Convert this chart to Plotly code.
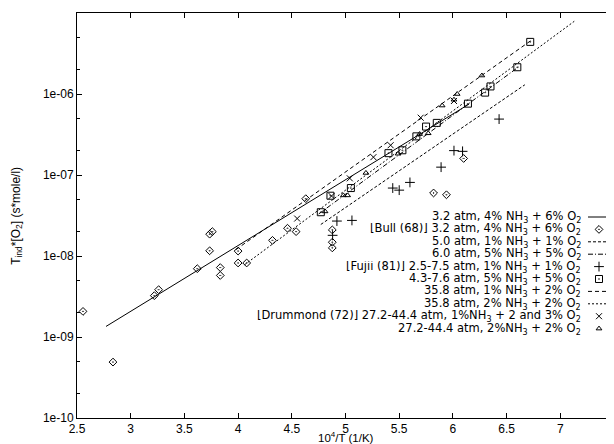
# induction time * [O2] vs inverse temperature, gnuplot-style log plot
import plotly.graph_objects as go

FONT = "Liberation Sans"
KEY_FONT = "DejaVu Sans"

# fitted correlations (endpoints)
fit_bull_x = [2.77, 6.15]
fit_bull_y = [1.35e-9, 7.5e-7]
fit_5atm_x = [4.77, 6.67]
fit_5atm_y = [2.45e-8, 1.3e-6]
fit_6atm_x = [4.75, 6.62]
fit_6atm_y = [3.3e-8, 2.2e-6]
fit_35_1_x = [3.98, 6.73]
fit_35_1_y = [1.2e-8, 4.6e-6]
fit_35_2_x = [4.06, 7.13]
fit_35_2_y = [7.8e-9, 7.9e-6]

# Bull (68) data
bull_x = [2.556, 2.835, 3.22, 3.26, 3.62, 3.735, 3.735, 3.76, 3.834, 3.834, 4.0, 4.0,
          4.08, 4.32, 4.46, 4.54, 4.63, 4.877, 4.877, 4.877, 5.82, 5.94, 6.10]
bull_y = [2.07e-9, 4.9e-10, 3.24e-9, 3.84e-9, 6.97e-9, 1.16e-8, 1.86e-8, 2.0e-8, 7.2e-9,
          5.75e-9, 1.15e-8, 8.2e-9, 8.2e-9, 1.56e-8, 2.2e-8, 2.0e-8, 5.1e-8, 2.1e-8,
          1.48e-8, 1.26e-8, 6.0e-8, 5.7e-8, 1.6e-7]

# Fujii (81) data
fujii1_x = [4.88, 4.92, 5.06, 5.44, 5.50, 5.60, 5.89, 6.01, 6.09, 6.43]
fujii1_y = [1.8e-8, 2.7e-8, 2.75e-8, 6.9e-8, 6.5e-8, 8.1e-8, 1.25e-7, 2.0e-7, 1.96e-7, 4.9e-7]
fujii5_x = [4.77, 4.86, 5.05, 5.40, 5.53, 5.66, 5.75, 5.85, 6.14, 6.30, 6.35, 6.60, 6.72]
fujii5_y = [3.47e-8, 5.55e-8, 6.9e-8, 1.86e-7, 2.02e-7, 3.0e-7, 3.96e-7, 4.4e-7, 7.6e-7,
            1.04e-6, 1.24e-6, 2.14e-6, 4.4e-6]

# Drummond (72) data
drum1_x = [4.55, 4.87, 5.04, 5.26, 5.42, 5.70, 6.01]
drum1_y = [2.9e-8, 5.5e-8, 9.1e-8, 1.66e-7, 2.33e-7, 5.1e-7, 8.2e-7]
drum2_x = [4.81, 4.98, 5.02, 5.19, 5.49, 5.69, 5.77, 5.90, 6.01, 6.04, 6.27]
drum2_y = [3.55e-8, 5.6e-8, 5.6e-8, 1.06e-7, 1.83e-7, 3.2e-7, 3.27e-7, 7.2e-7, 8.5e-7,
           1.0e-6, 1.69e-6]

x_ticks = [2.5, 3, 3.5, 4, 4.5, 5, 5.5, 6, 6.5, 7, 7.5]
x_tick_text = ["2.5", "3", "3.5", "4", "4.5", "5", "5.5", "6", "6.5", "7", "7.5"]
y_ticks = [1e-10, 1e-9, 1e-8, 1e-7, 1e-6, 1e-5]
y_tick_text = ["1e-10", "1e-09", "1e-08", "1e-07", "1e-06", "1e-05"]

legend_labels = [
    "3.2 atm, 4% NH<sub>3</sub> + 6% O<sub>2</sub>",
    "[Bull (68)] 3.2 atm, 4% NH<sub>3</sub> + 6% O<sub>2</sub>",
    "5.0 atm, 1% NH<sub>3</sub> + 1% O<sub>2</sub>",
    "6.0 atm, 5% NH<sub>3</sub> + 5% O<sub>2</sub>",
    "[Fujii (81)] 2.5-7.5 atm, 1% NH<sub>3</sub> + 1% O<sub>2</sub>",
    "4.3-7.6 atm, 5% NH<sub>3</sub> + 5% O<sub>2</sub>",
    "35.8 atm, 1% NH<sub>3</sub> + 2% O<sub>2</sub>",
    "35.8 atm, 2% NH<sub>3</sub> + 2% O<sub>2</sub>",
    "[Drummond (72)] 27.2-44.4 atm, 1%NH<sub>3</sub> + 2 and 3% O<sub>2</sub>",
    "27.2-44.4 atm, 2%NH<sub>3</sub> + 2% O<sub>2</sub>",
]

# plot area in pixels (gnuplot frame)
L, R, T, B = 69, 606, 5, 410
W, H = 614, 444

line_styles = {
    "solid": dict(color="black", width=1),
    "dash5": dict(color="black", width=1, dash="3px,2px"),
    "dashdot": dict(color="black", width=1, dash="5px,2px,1px,2px"),
    "longdash": dict(color="black", width=1, dash="4px,3px"),
    "dot": dict(color="black", width=1, dash="2px,2px"),
}
marker_styles = {
    "diamond": dict(symbol="diamond-open-dot", size=6, color="black", line=dict(width=1)),
    "plus": dict(symbol="cross-thin-open", size=7, color="black", line=dict(width=1)),
    "square": dict(symbol="square-open-dot", size=7, color="black", line=dict(width=1)),
    "x": dict(symbol="x-thin-open", size=6, color="black", line=dict(width=1)),
    "triangle": dict(symbol="triangle-up-open", size=5, color="black", line=dict(width=1)),
}

series = [
    ("line", fit_bull_x, fit_bull_y, "solid"),
    ("marker", bull_x, bull_y, "diamond"),
    ("line", fit_5atm_x, fit_5atm_y, "dash5"),
    ("line", fit_6atm_x, fit_6atm_y, "dashdot"),
    ("marker", fujii1_x, fujii1_y, "plus"),
    ("marker", fujii5_x, fujii5_y, "square"),
    ("line", fit_35_1_x, fit_35_1_y, "longdash"),
    ("line", fit_35_2_x, fit_35_2_y, "dot"),
    ("marker", drum1_x, drum1_y, "x"),
    ("marker", drum2_x, drum2_y, "triangle"),
]

fig = go.Figure()

for kind, xs, ys, style in series:
    if kind == "line":
        fig.add_trace(go.Scatter(x=xs, y=ys, mode="lines", line=line_styles[style],
                                 showlegend=False, hoverinfo="skip"))
    else:
        fig.add_trace(go.Scatter(x=xs, y=ys, mode="markers", marker=marker_styles[style],
                                 showlegend=False))

# gnuplot-like key: right-aligned text, sample to the right (pixel overlay axes)
row_y0, row_step = 209, 12.4
text_right = 574
for i, (label, (kind, _, _, style)) in enumerate(zip(legend_labels, series)):
    ry = row_y0 + row_step * i
    fig.add_annotation(x=text_right, y=ry, xref="x2", yref="y2", text=label,
                       showarrow=False, xanchor="right", yanchor="middle", height=12,
                       valign="middle", borderpad=0,
                       font=dict(family=KEY_FONT, size=11.5, color="black"))
    if kind == "line":
        fig.add_trace(go.Scatter(x=[580, 603], y=[ry, ry], mode="lines", xaxis="x2",
                                 yaxis="y2", line=line_styles[style],
                                 showlegend=False, hoverinfo="skip"))
    else:
        fig.add_trace(go.Scatter(x=[591], y=[ry], mode="markers", xaxis="x2", yaxis="y2",
                                 marker=marker_styles[style], showlegend=False,
                                 hoverinfo="skip"))

axis_common = dict(showline=True, linecolor="black", linewidth=1, mirror="ticks",
                   ticks="inside", ticklen=5, tickcolor="black", showgrid=False,
                   zeroline=False, tickfont=dict(family=FONT, size=12, color="black"))

fig.update_layout(
    width=W, height=H,
    margin=dict(l=L, r=W - R, t=T, b=H - B),
    paper_bgcolor="white", plot_bgcolor="white",
    xaxis=dict(range=[2.5, 7.5], tickvals=x_ticks, ticktext=x_tick_text, **axis_common),
    yaxis=dict(type="log", range=[-10, -5], tickvals=y_ticks, ticktext=y_tick_text,
               minor=dict(ticks="inside", ticklen=3, tickcolor="black",
                          tickvals=[2e-10, 5e-10, 2e-9, 5e-9, 2e-8, 5e-8, 2e-7, 5e-7,
                                    2e-6, 5e-6]),
               **axis_common),
    xaxis2=dict(range=[L, R], overlaying="x", visible=False),
    yaxis2=dict(range=[B, T], overlaying="y", visible=False),
    showlegend=False,
)

fig.add_annotation(x=0.5, y=(B - 429) / (B - T), xref="paper", yref="paper",
                   showarrow=False, xanchor="center", yanchor="middle", borderpad=0,
                   text="10<sup>4</sup>/T (1/K)",
                   font=dict(family=FONT, size=11.5, color="black"))
fig.add_annotation(x=-0.113, y=0.5, xref="paper", yref="paper", showarrow=False,
                   xanchor="center", yanchor="middle", textangle=-90,
                   text="T<sub>ind</sub>*[O<sub>2</sub>] (s*mole/l)",
                   font=dict(family=FONT, size=12, color="black"))

fig.write_html("out.html")
